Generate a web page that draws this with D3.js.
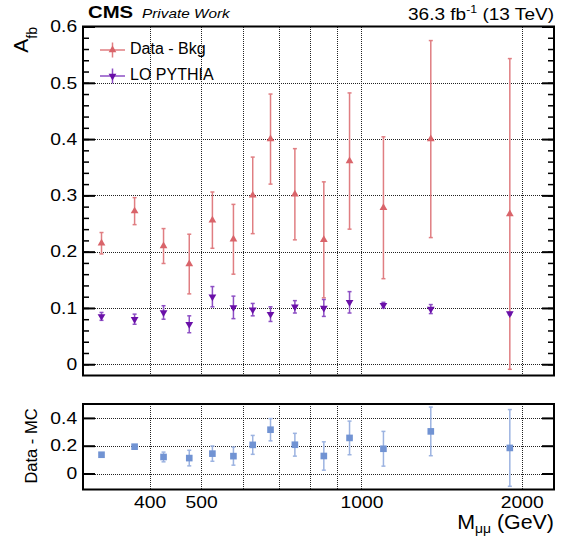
<!DOCTYPE html>
<html>
<head>
<meta charset="utf-8">
<script src="https://cdn.jsdelivr.net/npm/d3@7"></script>
<style>
  html, body { margin: 0; padding: 0; background: #fff; }
  svg { display: block; font-family: "Liberation Sans", Arial, Helvetica, sans-serif; }
</style>
</head>
<body>
<svg id="chart" width="561" height="545"></svg>
<script>
// Mass bin centres (GeV)
const massBins = [325, 375, 425, 475, 525, 575, 625, 675, 750, 850, 950, 1100, 1350, 1900];

// A_fb, data minus background
const dataBkg    = [0.215, 0.272, 0.210, 0.178, 0.256, 0.222, 0.300, 0.400, 0.302, 0.221, 0.361, 0.278, 0.400, 0.267];
const dataBkgErr = [0.019, 0.024, 0.031, 0.053, 0.050, 0.062, 0.068, 0.080, 0.081, 0.103, 0.121, 0.126, 0.175, 0.276];

// A_fb, LO PYTHIA
const loPythia    = [0.085, 0.080, 0.092, 0.071, 0.120, 0.101, 0.097, 0.089, 0.102, 0.100, 0.110, 0.105, 0.098, 0.090];
const loPythiaErr = [0.007, 0.009, 0.012, 0.015, 0.018, 0.020, 0.011, 0.013, 0.011, 0.015, 0.019, 0.005, 0.008, 0.002];

// lower panel: data - MC
const dataMinusMC    = [0.135, 0.193, 0.119, 0.111, 0.143, 0.125, 0.206, 0.315, 0.207, 0.126, 0.256, 0.178, 0.303, 0.184];
const dataMinusMCErr = [0.004, 0.010, 0.035, 0.056, 0.055, 0.065, 0.068, 0.080, 0.082, 0.102, 0.121, 0.125, 0.175, 0.276];

// axis ticks / grid
const massGrid    = [400, 500, 600, 700, 800, 900, 1000, 2000];
const massLabels  = [400, 500, 1000, 2000];
const afbTicks    = [0, 0.1, 0.2, 0.3, 0.4, 0.5, 0.6];
const afbMinor    = d3.range(0, 0.601, 0.02);
const ratioTicks  = [0, 0.2, 0.4];

const svg = d3.select('#chart');

// panel geometry
const left = 83, right = 554;
const main = { top: 26.5, bottom: 375.5 };
const low  = { top: 404, bottom: 489.5 };

const x = d3.scaleLog().domain([300, 2300]).range([left, right]);
const yMain = d3.scaleLinear().domain([-0.02, 0.6]).range([main.bottom, main.top]);
const yLow  = d3.scaleLinear().domain([-0.115, 0.5]).range([low.bottom, low.top]);

const colors = {
    data: '#d9646a', dataBar: '#e07e82',
    mc: '#6a10a8', mcBar: '#8d4fc4',
    diff: '#7193d3', diffBar: '#9cb3e1'
};

const numFmt = d => d === 0 ? '0' : d3.format('.1f')(d);
const labelStretch = 'scale(1.17,1)';

// dotted grid
function drawGrid(g, yScale, yValues, top, bottom) {
    g.append('g').selectAll('line')
        .data(massGrid)
        .enter().append('line')
        .attr('x1', d => Math.round(x(d)) + 0.5)
        .attr('x2', d => Math.round(x(d)) + 0.5)
        .attr('y1', top)
        .attr('y2', bottom)
        .attr('stroke', '#222')
        .attr('stroke-dasharray', '1,1')
        .attr('shape-rendering', 'crispEdges');
    g.append('g').selectAll('line')
        .data(yValues)
        .enter().append('line')
        .attr('x1', left)
        .attr('x2', right)
        .attr('y1', d => Math.round(yScale(d)) + 0.5)
        .attr('y2', d => Math.round(yScale(d)) + 0.5)
        .attr('stroke', '#222')
        .attr('stroke-dasharray', '1,1')
        .attr('shape-rendering', 'crispEdges');
}

// y axes with inward ticks on both sides
function drawYAxes(g, yScale, major, minor) {
    const ax = g.append('g')
        .attr('transform', `translate(${left},0)`)
        .call(d3.axisLeft(yScale).tickValues(major).tickSize(-12).tickPadding(5).tickFormat(numFmt));
    ax.select('.domain').remove();
    ax.selectAll('line').attr('stroke', '#000').attr('stroke-width', 2);
    ax.selectAll('text')
        .attr('transform', labelStretch)
        .style('font-size', '16.5px')
        .attr('fill', '#000');

    const axR = g.append('g')
        .attr('transform', `translate(${right},0)`)
        .call(d3.axisRight(yScale).tickValues(major).tickSize(-12).tickFormat(''));
    axR.select('.domain').remove();
    axR.selectAll('line').attr('stroke', '#000').attr('stroke-width', 2);

    if (minor) {
        [[d3.axisLeft, left], [d3.axisRight, right]].forEach(([axis, pos]) => {
            const m = g.append('g')
                .attr('transform', `translate(${pos},0)`)
                .call(axis(yScale).tickValues(minor).tickSize(-6).tickFormat(''));
            m.select('.domain').remove();
            m.selectAll('line').attr('stroke', '#000').attr('stroke-width', 1.5);
        });
    }
}

// markers with vertical error bars
function drawSeries(g, values, errors, yScale, opt) {
    const rows = massBins.map((m, i) => ({ m: m, v: values[i], e: errors[i] }));
    const grp = g.append('g');

    const bars = grp.selectAll('.err')
        .data(rows)
        .enter().append('g')
        .attr('class', 'err')
        .attr('stroke', opt.bar)
        .attr('stroke-width', 1.5);

    bars.append('line')
        .attr('x1', d => x(d.m))
        .attr('x2', d => x(d.m))
        .attr('y1', d => yScale(d.v - d.e))
        .attr('y2', d => yScale(d.v + d.e));

    [-1, 1].forEach(s => {
        bars.append('line')
            .attr('x1', d => x(d.m) - 2)
            .attr('x2', d => x(d.m) + 2)
            .attr('y1', d => yScale(d.v + s * d.e))
            .attr('y2', d => yScale(d.v + s * d.e));
    });

    grp.selectAll('.mk')
        .data(rows)
        .enter().append('path')
        .attr('class', 'mk')
        .attr('d', d3.symbol().type(opt.symbol).size(opt.size))
        .attr('transform', d => `translate(${x(d.m)},${yScale(d.v)}) rotate(${opt.rotate || 0})`)
        .attr('fill', opt.color);
}

// ---- main panel ----
const gMain = svg.append('g');
drawGrid(gMain, yMain, afbTicks.filter(d => d < 0.6), main.top, main.bottom);
drawYAxes(gMain, yMain, afbTicks, afbMinor);

drawSeries(gMain, dataBkg, dataBkgErr, yMain,
    { color: colors.data, bar: colors.dataBar, symbol: d3.symbolTriangle, size: 26 });
drawSeries(gMain, loPythia, loPythiaErr, yMain,
    { color: colors.mc, bar: colors.mcBar, symbol: d3.symbolTriangle, size: 26, rotate: 180 });

gMain.append('rect')
    .attr('x', left).attr('y', main.top)
    .attr('width', right - left).attr('height', main.bottom - main.top)
    .attr('fill', 'none').attr('stroke', '#000').attr('stroke-width', 2);

// legend
const legend = svg.append('g');
const legendItems = [
    { label: 'Data - Bkg', color: colors.data, bar: colors.dataBar, rotate: 0, y: 50 },
    { label: 'LO PYTHIA', color: colors.mc, bar: colors.mcBar, rotate: 180, y: 76 }
];
legendItems.forEach(it => {
    legend.append('line')
        .attr('x1', 100).attr('x2', 125).attr('y1', it.y).attr('y2', it.y)
        .attr('stroke', it.bar).attr('stroke-width', 1.5);
    legend.append('line')
        .attr('x1', 112.5).attr('x2', 112.5).attr('y1', it.y - 7.5).attr('y2', it.y + 7.5)
        .attr('stroke', it.bar).attr('stroke-width', 1.5);
    legend.append('path')
        .attr('d', d3.symbol().type(d3.symbolTriangle).size(26))
        .attr('transform', `translate(112.5,${it.y}) rotate(${it.rotate})`)
        .attr('fill', it.color);
    legend.append('text')
        .attr('x', 130).attr('y', it.y + 4)
        .style('font-size', '16px')
        .text(it.label);
});

// ---- lower panel ----
const gLow = svg.append('g');
drawGrid(gLow, yLow, ratioTicks, low.top, low.bottom);
drawYAxes(gLow, yLow, ratioTicks, null);
drawSeries(gLow, dataMinusMC, dataMinusMCErr, yLow,
    { color: colors.diff, bar: colors.diffBar, symbol: d3.symbolSquare, size: 44 });

gLow.append('rect')
    .attr('x', left).attr('y', low.top)
    .attr('width', right - left).attr('height', low.bottom - low.top)
    .attr('fill', 'none').attr('stroke', '#000').attr('stroke-width', 2);

// x labels
const axX = svg.append('g')
    .attr('transform', `translate(0,${low.bottom})`)
    .call(d3.axisBottom(x).tickValues(massLabels).tickSize(0).tickPadding(7).tickFormat(d3.format('d')));
axX.select('.domain').remove();
axX.selectAll('text')
    .attr('transform', labelStretch)
    .style('font-size', '16.5px')
    .attr('fill', '#000');

// ---- titles ----
const xTitle = svg.append('text')
    .attr('transform', 'translate(554,529) scale(1.07,1)')
    .attr('text-anchor', 'end')
    .style('font-size', '20px');
xTitle.append('tspan').text('M');
xTitle.append('tspan').attr('dy', 4).style('font-size', '13px').text('μμ');
xTitle.append('tspan').attr('dy', -4).text(' (GeV)');

const yTitle = svg.append('text')
    .attr('transform', 'translate(28,27) rotate(-90)')
    .attr('text-anchor', 'end')
    .style('font-size', '21px');
yTitle.append('tspan').text('A');
yTitle.append('tspan').attr('dy', 9).style('font-size', '14px').text('fb');

svg.append('text')
    .attr('transform', 'translate(37,446) rotate(-90)')
    .attr('text-anchor', 'middle')
    .style('font-size', '16.5px')
    .text('Data - MC');

svg.append('text')
    .attr('transform', 'translate(88,18) scale(1.27,1)')
    .style('font-size', '16px')
    .style('font-weight', 'bold')
    .text('CMS');

svg.append('text')
    .attr('transform', 'translate(142,18) scale(1.18,1)')
    .style('font-size', '13px')
    .style('font-style', 'italic')
    .text('Private Work');

const lumi = svg.append('text')
    .attr('transform', 'translate(554,19.5) scale(1.12,1)')
    .attr('text-anchor', 'end')
    .style('font-size', '17px');
lumi.append('tspan').text('36.3 fb');
lumi.append('tspan').attr('dy', -7).style('font-size', '11px').text('-1');
lumi.append('tspan').attr('dy', 7).text(' (13 TeV)');
</script>
</body>
</html>
